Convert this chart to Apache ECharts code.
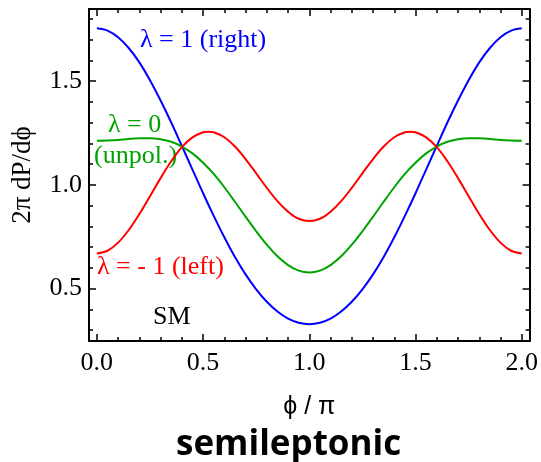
<!DOCTYPE html>
<html><head><meta charset="utf-8">
<script src="https://cdn.jsdelivr.net/npm/echarts@6/dist/echarts.min.js"></script>
<style>html,body{margin:0;padding:0;background:#fff}#c{width:541px;height:462px}</style>
</head><body><div id="c"></div>
<script>
// phi / pi sample positions
const phi = [0.00,0.05,0.10,0.15,0.20,0.25,0.30,0.35,0.40,0.45,0.50,0.55,0.60,0.65,0.70,0.75,0.80,0.85,0.90,0.95,1.00,
             1.05,1.10,1.15,1.20,1.25,1.30,1.35,1.40,1.45,1.50,1.55,1.60,1.65,1.70,1.75,1.80,1.85,1.90,1.95,2.00];
// lambda = 1 (right)
const right = [1.754,1.743,1.711,1.659,1.590,1.504,1.406,1.300,1.187,1.073,0.959,0.850,0.747,0.652,0.568,0.496,0.436,0.389,0.355,0.335,0.328,
               0.335,0.355,0.389,0.436,0.496,0.568,0.652,0.747,0.850,0.959,1.073,1.187,1.300,1.406,1.504,1.590,1.659,1.711,1.743,1.754];
// lambda = -1 (left): sampled positions, including its two peaks
const phiLeft = [0.00,0.05,0.10,0.15,0.20,0.25,0.30,0.35,0.40,0.45,0.50,0.525,0.55,0.60,0.65,0.70,0.75,0.80,0.85,0.90,0.95,1.00,
                 1.05,1.10,1.15,1.20,1.25,1.30,1.35,1.40,1.45,1.475,1.50,1.55,1.60,1.65,1.70,1.75,1.80,1.85,1.90,1.95,2.00];
const left = [0.669,0.682,0.721,0.782,0.859,0.945,1.032,1.113,1.181,1.228,1.253,1.256,1.253,1.229,1.184,1.124,1.055,0.985,0.921,0.870,0.836,0.825,
              0.836,0.870,0.921,0.985,1.055,1.124,1.184,1.229,1.253,1.256,1.253,1.228,1.181,1.113,1.032,0.945,0.859,0.782,0.721,0.682,0.669];
// lambda = 0 (unpolarized)
const unpol = [1.212,1.213,1.216,1.221,1.224,1.224,1.219,1.207,1.184,1.151,1.106,1.052,0.988,0.918,0.846,0.776,0.711,0.655,0.613,0.586,0.577,
               0.586,0.613,0.655,0.711,0.776,0.846,0.918,0.988,1.052,1.106,1.151,1.184,1.207,1.219,1.224,1.224,1.221,1.216,1.213,1.212];
const xMajor = [0, 0.5, 1.0, 1.5, 2.0];
const xMinor = [0.1,0.2,0.3,0.4,0.6,0.7,0.8,0.9,1.1,1.2,1.3,1.4,1.6,1.7,1.8,1.9];
const yMajor = [0.5, 1.0, 1.5];
const yMinor = [0.3,0.4,0.6,0.7,0.8,0.9,1.1,1.2,1.3,1.4,1.6,1.7,1.8];

const serif = "'Liberation Serif', 'Times New Roman', serif";
const GREEN = '#00a400';
const chart = echarts.init(document.getElementById('c'));
const X0 = -0.037, X1 = 2.037, Y0 = 0.247, Y1 = 1.847;
const lineStyle = {color:'#000', width:2};
function xa(pos, vals, len, labels, showLine){
  return {type:'value', position:pos, min:X0, max:X1, gridIndex:0,
    axisLine:{show:showLine, onZero:false, lineStyle},
    axisTick:{show:true, inside:true, length:len, customValues:vals, lineStyle:{color:'#000', width:1.5}},
    axisLabel:{show:labels, customValues:vals, margin:9, color:'#000', fontFamily:serif, fontSize:26,
      formatter:v=>v.toFixed(1)},
    splitLine:{show:false}};
}
function ya(pos, vals, len, labels, showLine){
  return {type:'value', position:pos, min:Y0, max:Y1, gridIndex:0,
    axisLine:{show:showLine, onZero:false, lineStyle},
    axisTick:{show:true, inside:true, length:len, customValues:vals, lineStyle:{color:'#000', width:1.5}},
    axisLabel:{show:labels, customValues:vals, margin:7, color:'#000', fontFamily:serif, fontSize:26,
      formatter:v=>v.toFixed(1)},
    splitLine:{show:false}};
}
const xAxes = [xa('bottom', xMajor, 7, true, true), xa('bottom', xMinor, 4, false, false),
               xa('top', xMajor, 7, false, true), xa('top', xMinor, 4, false, false)];
const yAxes = [ya('left', yMajor, 7, true, true), ya('left', yMinor, 4, false, false),
               ya('right', yMajor, 7, false, true), ya('right', yMinor, 4, false, false)];
yAxes[0].name = '2π dP/dϕ';
yAxes[0].nameLocation = 'middle';
yAxes[0].nameRotate = 90;
yAxes[0].nameGap = 53;
yAxes[0].nameTextStyle = {fontFamily:serif, fontSize:27, color:'#000'};
xAxes[0].name = 'ϕ / π';
xAxes[0].nameLocation = 'middle';
xAxes[0].nameGap = 54;
xAxes[0].nameTextStyle = {fontFamily:"'Liberation Sans', sans-serif", fontSize:25, color:'#000'};

const pairs = (xs, ys) => xs.map((p,i)=>[p, ys[i]]);
function line(name, xs, ys, color){
  return {type:'line', name, data:pairs(xs, ys), xAxisIndex:0, yAxisIndex:0, showSymbol:false, smooth:0.35,
    lineStyle:{color, width:2}, itemStyle:{color}, z:3};
}
const t = (text, x, y, fill) => ({type:'text', x, y,
  style:{text, fill, font:"26px 'Liberation Serif'", textAlign:'left', textVerticalAlign:'middle'}});
chart.setOption({
  animation:false,
  title:{text:'semileptonic', left:171, top:423,
    textStyle:{fontFamily:"'Open Sans', sans-serif", fontWeight:'bold', fontSize:35, color:'#000'}},
  grid:{left:89, right:11, top:9, bottom:121},
  xAxis:xAxes, yAxis:yAxes,
  series:[line('right', phi, right, '#0000ff'), line('unpol', phi, unpol, GREEN), line('left', phiLeft, left, '#ff0000')],
  graphic:[
    t('λ = 1 (right)', 140, 40, '#0000ff'),
    t('λ = 0', 108, 125, GREEN),
    t('(unpol.)', 94, 156, GREEN),
    t('λ = - 1 (left)', 97, 267, '#ff0000'),
    t('SM', 153, 317, '#000')
  ]
});
</script></body></html>
